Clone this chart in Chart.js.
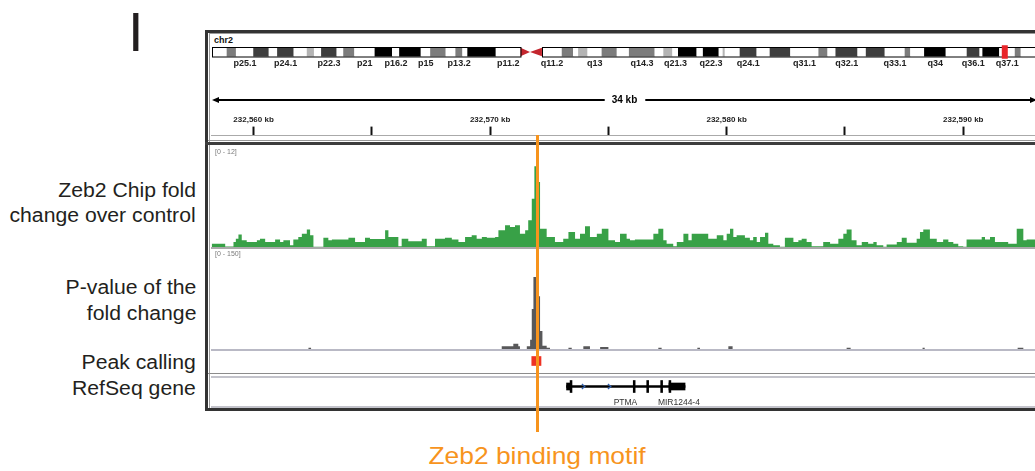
<!DOCTYPE html>
<html>
<head>
<meta charset="utf-8">
<script src="https://cdn.jsdelivr.net/npm/chart.js@4.4.1/dist/chart.umd.min.js"></script>
<style>
  body { margin: 0; width: 1035px; height: 471px; overflow: hidden; background: #fff; position: relative;
         font-family: 'Liberation Sans', Arial, sans-serif; }
  canvas, .abs { position: absolute; }
  .line { position: absolute; }
  .lbl { position: absolute; right: 839px; font-size: 20px; line-height: 24px; color: #231f20; white-space: nowrap;
         transform: scaleX(1.06); transform-origin: right center; }
</style>
</head>
<body>

<div class="abs" style="left:128px;top:4px;font-size:56px;line-height:56px;color:#231f20;">I</div>

<div class="lbl" style="top:178px;">Zeb2 Chip fold</div>
<div class="lbl" style="top:203px;">change over control</div>
<div class="lbl" style="top:275px;">P-value of the</div>
<div class="lbl" style="top:301px;">fold change</div>
<div class="lbl" style="top:350px;">Peak calling</div>
<div class="lbl" style="top:376px;">RefSeq gene</div>

<!-- IGV frame -->
<div class="abs" style="left:205px;top:30px;width:900px;height:381px;border:3px solid #333;box-sizing:border-box;"></div>
<div class="line" style="left:209px;top:33px;width:1px;height:375px;background:#9a9a9a;"></div>
<div class="line" style="left:209px;top:33px;width:900px;height:1px;background:#9a9a9a;"></div>
<div class="abs" style="left:214px;top:36px;font-size:9px;line-height:9px;font-weight:bold;color:#111;">chr2</div>
<div class="line" style="left:211px;top:135px;width:900px;height:1px;background:#aaa;"></div>
<div class="line" style="left:208px;top:140px;width:900px;height:1px;background:#999;"></div>
<div class="line" style="left:205px;top:142px;width:900px;height:3px;background:#3d3d3d;"></div>
<div class="line" style="left:211px;top:247px;width:900px;height:2px;background:#a9a9a9;"></div>
<div class="line" style="left:211px;top:349px;width:900px;height:2px;background:#b9b9c5;"></div>
<div class="line" style="left:208px;top:373px;width:900px;height:1px;background:#8c8c8c;"></div>
<div class="line" style="left:211px;top:376px;width:900px;height:2px;background:#c3c3cb;"></div>
<div class="line" style="left:211px;top:406px;width:900px;height:2px;background:#c3c3cb;"></div>

<canvas id="ideo" width="829" height="30" style="left:212px;top:43px;"></canvas>
<canvas id="ruler" width="827" height="70" style="left:211px;top:88px;"></canvas>
<canvas id="fold" width="827" height="100" style="left:211px;top:147px;"></canvas>
<canvas id="pval" width="827" height="100" style="left:211px;top:249px;"></canvas>
<canvas id="peak" width="827" height="20" style="left:211px;top:351px;"></canvas>
<canvas id="gene" width="827" height="28" style="left:211px;top:378px;"></canvas>

<div id="motifLine" class="abs" style="top:135px;width:3px;height:297px;background:#f7941d;z-index:10;"></div>
<div id="motifText" class="abs" style="top:444px;width:300px;text-align:center;font-size:24px;line-height:24px;color:#f7941d;transform:scaleX(1.1);transform-origin:center;">Zeb2 binding motif</div>

<script>
// ---- chr2 cytobands (Mb) ----
const bandNames = ['p25.3','p25.2','p25.1','p24.3','p24.2','p24.1','p23.3','p23.2','p23.1','p22.3','p22.2','p22.1','p21','p16.3','p16.2','p16.1','p15','p14','p13.3','p13.2','p13.1','p12','p11.2','p11.1','q11.1','q11.2','q12.1','q12.2','q12.3','q13','q14.1','q14.2','q14.3','q21.1','q21.2','q21.3','q22.1','q22.2','q22.3','q23.1','q23.2','q23.3','q24.1','q24.2','q24.3','q31.1','q31.2','q31.3','q32.1','q32.2','q32.3','q33.1','q33.2','q33.3','q34','q35','q36.1','q36.2','q36.3','q37.1','q37.2','q37.3'];
const bandStart = [0,4.4,7.1,12.2,16.7,19.2,24.0,27.9,30.0,32.1,36.6,38.6,41.8,47.8,52.9,55.0,61.3,64.1,68.6,71.5,73.5,75.0,83.3,90.5,93.3,96.8,102.7,106.0,107.5,110.2,114.4,118.8,122.4,129.9,132.5,135.1,136.8,142.2,144.1,148.7,149.9,150.5,154.9,159.8,163.7,169.7,178.0,180.6,183.0,189.4,191.9,197.4,203.3,204.9,209.0,215.3,221.5,225.2,226.1,231.0,235.6,237.3];
const bandEnd = [4.4,7.1,12.2,16.7,19.2,24.0,27.9,30.0,32.1,36.6,38.6,41.8,47.8,52.9,55.0,61.3,64.1,68.6,71.5,73.5,75.0,83.3,90.5,93.3,96.8,102.7,106.0,107.5,110.2,114.4,118.8,122.4,129.9,132.5,135.1,136.8,142.2,144.1,148.7,149.9,150.5,154.9,159.8,163.7,169.7,178.0,180.6,183.0,189.4,191.9,197.4,203.3,204.9,209.0,215.3,221.5,225.2,226.1,231.0,235.6,237.3,243.2];
const bandStain = ['gneg','gpos50','gneg','gpos75','gneg','gpos75','gneg','gpos25','gneg','gpos75','gneg','gpos50','gneg','gpos100','gneg','gpos100','gneg','gpos50','gneg','gpos50','gneg','gpos100','gneg','acen','acen','gneg','gpos50','gneg','gpos25','gneg','gpos50','gneg','gpos50','gneg','gpos25','gneg','gpos100','gneg','gpos100','gneg','gpos25','gneg','gpos75','gneg','gpos75','gneg','gpos50','gneg','gpos75','gneg','gpos75','gneg','gpos50','gneg','gpos100','gneg','gpos75','gneg','gpos100','gneg','gpos50','gneg'];
const labeledBands = ['p25.1','p24.1','p22.3','p21','p16.2','p15','p13.2','p11.2','q11.2','q13','q14.3','q21.3','q22.3','q24.1','q31.1','q32.1','q33.1','q34','q36.1','q37.1'];

// ---- visible locus (kb) ----
const viewStart = 232558.20;
const viewEnd = 232593.16;
const spanLabel = '34 kb';
const rulerTicks = [232560, 232565, 232570, 232575, 232580, 232585, 232590];
const rulerLabels = ['232,560 kb', '', '232,570 kb', '', '232,580 kb', '', '232,590 kb'];

// ---- Zeb2 ChIP fold change over control, range 0-12 ----
const foldEdges = [232558.23,232558.80,232559.15,232559.25,232559.36,232559.50,232559.71,232560.14,232560.27,232560.49,
  232560.91,232561.12,232561.26,232561.54,232561.68,232561.89,232562.04,232562.25,232562.39,232562.53,
  232562.95,232563.16,232563.31,232564.01,232564.29,232564.71,232564.92,232565.56,232565.70,232566.12,
  232566.26,232566.54,232567.11,232567.32,232567.67,232568.09,232568.38,232568.66,232568.94,232569.22,
  232569.43,232569.65,232569.86,232570.21,232570.35,232570.63,232570.84,232571.05,232571.26,232571.48,
  232571.61,232571.76,232571.87,232572.00,232572.04,232572.11,232572.39,232572.74,232573.09,232573.31,
  232573.59,232573.80,232574.01,232574.22,232574.51,232574.72,232575.00,232575.28,232575.49,232575.77,
  232575.91,232576.12,232576.90,232577.11,232577.32,232577.46,232577.74,232577.89,232578.17,232578.38,
  232578.52,232579.22,232579.58,232579.86,232580.00,232580.14,232580.28,232580.42,232580.77,232580.98,
  232581.12,232581.27,232581.41,232581.62,232581.76,232581.97,232582.25,232582.46,232582.82,232583.03,
  232583.17,232583.38,232583.59,232584.08,232584.37,232584.72,232584.93,232585.07,232585.28,232585.49,
  232585.71,232585.98,232586.20,232586.34,232586.62,232586.76,232587.19,232587.40,232587.61,232588.03,
  232588.17,232588.31,232588.59,232588.88,232589.15,232589.37,232589.58,232589.79,232590.00,232590.14,
  232590.78,232590.92,232591.13,232591.34,232591.90,232592.26,232592.54,232592.68,232593.16];
const foldValues = [0.4,0.05,0.6,1.0,1.5,0.8,0.6,0.8,1.0,0.6,
  0.9,0.6,0.8,0.2,0.9,1.2,1.6,2.1,1.4,0.02,
  1.1,0.8,0.9,1.1,0.6,1.1,0.95,2.0,1.2,0.1,
  1.0,0.7,1.0,0.1,1.0,1.1,0.9,0.6,1.2,1.4,
  1.0,1.2,1.1,1.2,2.0,2.6,2.4,2.6,1.6,2.0,
  3.2,5.8,9.7,8.5,7.8,2.2,1.2,0.6,1.0,1.8,
  1.0,1.6,2.5,1.2,1.6,2.2,0.8,0.6,1.6,1.0,
  0.8,0.9,1.6,2.2,0.8,0.4,0.1,0.6,1.6,0.8,
  1.6,1.0,1.4,0.8,1.6,2.2,1.2,1.4,1.1,0.8,
  1.2,0.6,1.2,1.7,0.4,0.2,0.02,1.1,0.6,0.8,
  1.0,0.6,0.1,0.6,0.4,1.0,1.6,2.1,0.8,0.2,
  0.6,0.4,0.6,0.2,0.02,0.3,0.6,1.1,0.5,1.0,
  1.8,2.1,1.0,0.6,0.9,0.6,0.4,0.1,0.02,0.9,
  1.2,0.9,1.2,0.6,0.4,2.2,0.8,0.9];

// ---- P-value of the fold change, range 0-150 ----
const pEdges = [232558.20,232562.32,232562.43,232570.49,232570.98,232571.19,232571.26,232571.55,232571.69,232571.76,
  232571.83,232571.94,232572.04,232572.11,232572.21,232572.39,232572.53,232573.31,232573.45,232573.94,
  232574.22,232574.65,232575.00,232577.11,232577.25,232578.76,232578.87,232580.07,232580.25,232585.07,
  232585.24,232588.28,232588.37,232592.30,232592.54,232593.16];
const pValues = [0,2,0,4,8,4,0,4,14,60,
  108,100,79,27,5,2,0,2,0,4,
  0,3,0,2,0,2,0,4,0,2,
  0,2,0,2,0];

// ---- peak call and RefSeq gene (kb) ----
const peakCalls = [[232571.76, 232572.15]];
const motifKb = 232572.00;
const geneSpan = [[232573.23, 232578.24]];
const geneUtr = [[232573.23, 232573.38], [232577.56, 232578.24]];
const geneCds = [[232573.38, 232573.46], [232576.05, 232576.13], [232576.62, 232576.70], [232577.21, 232577.29], [232577.56, 232577.64]];
const strandArrows = [232573.94, 232575.04];
const geneLabels = ['PTMA', 'MIR1244-4'];
const geneLabelPos = [232575.72, 232577.98];

const FONT = "'Liberation Sans', Arial, sans-serif";
const stainColor = { gneg: '#ffffff', gpos25: '#b4b4b4', gpos50: '#7c7c7c', gpos75: '#3e3e3e', gpos100: '#000000', acen: 'rgba(0,0,0,0)' };

const base = {
  responsive: false, animation: false, events: [], devicePixelRatio: 1,
  plugins: { legend: { display: false }, tooltip: { enabled: false } }
};
const xAxis = { type: 'linear', min: viewStart, max: viewEnd, display: false };

// ideogram
const ideogramPlugin = {
  id: 'ideogram',
  afterDatasetsDraw(chart) {
    const { ctx } = chart;
    const x = chart.scales.x, y = chart.scales.y;
    const cy = y.getPixelForValue(0), h = 8.5, top = cy - h / 2;
    const ac = bandStain.map((s, i) => s === 'acen' ? i : -1).filter(i => i >= 0);
    const pA = ac[0], qA = ac[ac.length - 1];
    ctx.save();
    ctx.fillStyle = '#c4262e';
    ctx.beginPath();
    ctx.moveTo(x.getPixelForValue(bandStart[pA]), top);
    ctx.lineTo(x.getPixelForValue(bandEnd[pA]), cy);
    ctx.lineTo(x.getPixelForValue(bandStart[pA]), top + h);
    ctx.closePath(); ctx.fill();
    ctx.beginPath();
    ctx.moveTo(x.getPixelForValue(bandEnd[qA]), top);
    ctx.lineTo(x.getPixelForValue(bandStart[qA]), cy);
    ctx.lineTo(x.getPixelForValue(bandEnd[qA]), top + h);
    ctx.closePath(); ctx.fill();
    ctx.strokeStyle = '#000'; ctx.lineWidth = 1;
    const p0 = x.getPixelForValue(bandStart[0]), p1 = x.getPixelForValue(bandStart[pA]);
    const q0 = x.getPixelForValue(bandEnd[qA]), q1 = x.getPixelForValue(bandEnd[bandEnd.length - 1]);
    ctx.strokeRect(Math.round(p0) + 0.5, Math.round(top) - 0.5, p1 - p0, h + 1);
    ctx.strokeRect(Math.round(q0) + 0.5, Math.round(top) - 0.5, q1 - q0, h + 1);
    // current view marker
    const vx = x.getPixelForValue((viewStart + viewEnd) / 2000);
    ctx.fillStyle = '#e8252a';
    ctx.fillRect(vx - 3, top - 2.5, 6, h + 5);
    // band labels
    ctx.font = 'bold 9px ' + FONT;
    ctx.fillStyle = '#222'; ctx.textAlign = 'center'; ctx.textBaseline = 'middle';
    labeledBands.forEach(name => {
      const i = bandNames.indexOf(name);
      ctx.fillText(name, x.getPixelForValue((bandStart[i] + bandEnd[i]) / 2), cy + 11.5);
    });
    ctx.restore();
  }
};
new Chart(document.getElementById('ideo'), {
  type: 'bar',
  data: {
    labels: ['chr2'],
    datasets: [{
      data: bandNames.map((n, i) => ({ y: 'chr2', x: [bandStart[i], bandEnd[i]] })),
      backgroundColor: bandStain.map(s => stainColor[s]),
      barThickness: 8.5, borderWidth: 0, grouped: false
    }]
  },
  options: Object.assign({}, base, {
    indexAxis: 'y',
    layout: { padding: { bottom: 12 } },
    scales: { x: { type: 'linear', min: 0, max: bandEnd[bandEnd.length - 1], display: false }, y: { display: false } }
  }),
  plugins: [ideogramPlugin]
});

// ruler
const rulerPlugin = {
  id: 'rulerArrow',
  afterDraw(chart) {
    const { ctx, chartArea: { left, right } } = chart;
    const yy = 12, cx = (left + right) / 2;
    ctx.save();
    ctx.font = 'bold 10px ' + FONT;
    const tw = ctx.measureText(spanLabel).width;
    ctx.strokeStyle = '#000'; ctx.fillStyle = '#000'; ctx.lineWidth = 2;
    ctx.beginPath();
    ctx.moveTo(left + 4, yy); ctx.lineTo(cx - tw / 2 - 7, yy);
    ctx.moveTo(cx + tw / 2 + 8, yy); ctx.lineTo(right - 4, yy);
    ctx.stroke();
    ctx.beginPath();
    ctx.moveTo(left + 1, yy); ctx.lineTo(left + 8, yy - 3); ctx.lineTo(left + 8, yy + 3); ctx.closePath(); ctx.fill();
    ctx.beginPath();
    ctx.moveTo(right - 1, yy); ctx.lineTo(right - 8, yy - 3); ctx.lineTo(right - 8, yy + 3); ctx.closePath(); ctx.fill();
    ctx.textAlign = 'center'; ctx.textBaseline = 'middle';
    ctx.fillText(spanLabel, cx, yy);
    ctx.restore();
  }
};
new Chart(document.getElementById('ruler'), {
  type: 'scatter',
  data: { datasets: [{ data: [] }] },
  options: Object.assign({}, base, {
    layout: { padding: { top: 25, left: 0, right: 0, bottom: 0 }, autoPadding: false },
    scales: {
      x: {
        type: 'linear', position: 'top', min: viewStart, max: viewEnd,
        afterBuildTicks: s => { s.ticks = rulerTicks.map(v => ({ value: v })); },
        ticks: { autoSkip: false, maxRotation: 0, padding: 2, color: '#222',
                 font: { family: FONT, size: 8, weight: 'bold' },
                 callback: (v, i) => rulerLabels[i] },
        grid: { drawOnChartArea: false, tickLength: 8, tickWidth: 2, tickColor: '#111' },
        border: { display: false }
      },
      y: { display: false }
    }
  }),
  plugins: [rulerPlugin]
});

// coverage tracks
const rangePlugin = {
  id: 'rangeLabel',
  afterDraw(chart) {
    const { ctx } = chart, y = chart.scales.y;
    ctx.save();
    ctx.font = '7px ' + FONT; ctx.fillStyle = '#7a7a7a';
    ctx.textAlign = 'left'; ctx.textBaseline = 'middle';
    ctx.fillText('[' + y.min + ' - ' + y.max + ']', 4, 5);
    ctx.restore();
  }
};
function stepData(edges, values) {
  const pts = values.map((v, i) => ({ x: edges[i], y: v }));
  pts.push({ x: edges[edges.length - 1], y: values[values.length - 1] });
  return pts;
}
function coverage(id, edges, values, color, yMax) {
  return new Chart(document.getElementById(id), {
    type: 'line',
    data: { datasets: [{ data: stepData(edges, values), stepped: 'before', fill: 'origin',
      backgroundColor: color, borderColor: 'rgba(0,0,0,0)', borderWidth: 0, pointRadius: 0 }] },
    options: Object.assign({}, base, {
      scales: { x: xAxis, y: { type: 'linear', min: 0, max: yMax, display: false } }
    }),
    plugins: [rangePlugin]
  });
}
const foldChart = coverage('fold', foldEdges, foldValues, '#38a147', 12);
coverage('pval', pEdges, pValues, '#58585a', 150);

// peak calls
new Chart(document.getElementById('peak'), {
  type: 'bar',
  data: { labels: ['peak'], datasets: [{ data: peakCalls.map(p => ({ y: 'peak', x: p })),
    backgroundColor: '#ee3224', barThickness: 9, borderWidth: 0 }] },
  options: Object.assign({}, base, { indexAxis: 'y', scales: { x: xAxis, y: { display: false } } })
});

// RefSeq gene
const genePlugin = {
  id: 'geneDecor',
  afterDatasetsDraw(chart) {
    const { ctx } = chart, x = chart.scales.x, y = chart.scales.y;
    const cy = y.getPixelForValue(0);
    ctx.save();
    ctx.strokeStyle = '#2f5fae'; ctx.lineWidth = 1.2;
    strandArrows.forEach(k => {
      const px = x.getPixelForValue(k);
      ctx.beginPath(); ctx.moveTo(px - 1.5, cy - 2.5); ctx.lineTo(px + 1.5, cy); ctx.lineTo(px - 1.5, cy + 2.5); ctx.stroke();
    });
    ctx.font = '8.5px ' + FONT; ctx.fillStyle = '#333';
    ctx.textAlign = 'center'; ctx.textBaseline = 'middle';
    geneLabels.forEach((g, i) => ctx.fillText(g, x.getPixelForValue(geneLabelPos[i]), cy + 16.5));
    ctx.restore();
  }
};
new Chart(document.getElementById('gene'), {
  type: 'bar',
  data: {
    labels: ['PTMA'],
    datasets: [
      { data: geneCds.map(e => ({ y: 'PTMA', x: e })), backgroundColor: '#000', barThickness: 12, borderWidth: 0, grouped: false },
      { data: geneUtr.map(e => ({ y: 'PTMA', x: e })), backgroundColor: '#000', barThickness: 7, borderWidth: 0, grouped: false },
      { data: geneSpan.map(e => ({ y: 'PTMA', x: e })), backgroundColor: '#000', barThickness: 2, borderWidth: 0, grouped: false }
    ]
  },
  options: Object.assign({}, base, {
    indexAxis: 'y',
    layout: { padding: { bottom: 11 } },
    scales: { x: xAxis, y: { display: false } }
  }),
  plugins: [genePlugin]
});

// motif marker positioned through the track scale
const mx = 211 + foldChart.scales.x.getPixelForValue(motifKb);
document.getElementById('motifLine').style.left = (mx - 1.5) + 'px';
document.getElementById('motifText').style.left = (mx - 150) + 'px';
</script>
</body>
</html>
